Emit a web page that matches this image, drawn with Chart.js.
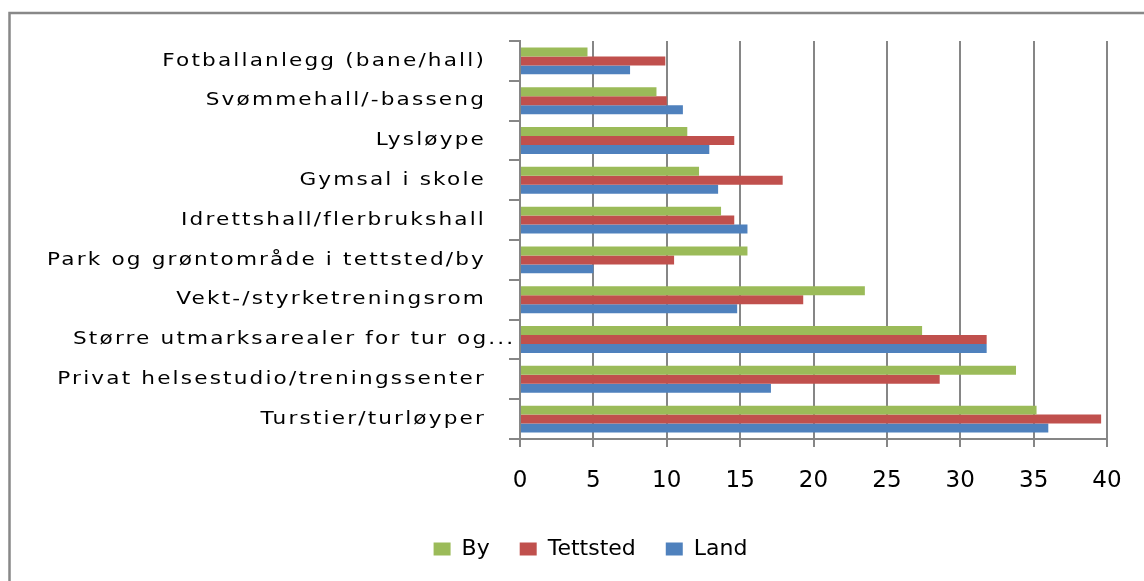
<!DOCTYPE html>
<html>
<head>
<meta charset="utf-8">
<script src="https://cdn.jsdelivr.net/npm/chart.js@4.4.1/dist/chart.umd.min.js"></script>
<style>
  html, body { margin: 0; padding: 0; background: #ffffff; }
  #wrap { width: 1144px; height: 581px; position: relative; }
</style>
</head>
<body>
<div id="wrap"><canvas id="chart" width="1144" height="581"></canvas></div>
<script>
// ---- Data ----
const categories = [
  "Fotballanlegg (bane/hall)",
  "Svømmehall/-basseng",
  "Lysløype",
  "Gymsal i skole",
  "Idrettshall/flerbrukshall",
  "Park og grøntområde i tettsted/by",
  "Vekt-/styrketreningsrom",
  "Større utmarksarealer for tur og...",
  "Privat helsestudio/treningssenter",
  "Turstier/turløyper"
];
const seriesNames = ["By", "Tettsted", "Land"];
const byValues       = [4.6, 9.3, 11.4, 12.2, 13.7, 15.5, 23.5, 27.4, 33.8, 35.2];
const tettstedValues = [9.9, 10.0, 14.6, 17.9, 14.6, 10.5, 19.3, 31.8, 28.6, 39.6];
const landValues     = [7.5, 11.1, 12.9, 13.5, 15.5, 5.0, 14.8, 31.8, 17.1, 36.0];
const xMin = 0, xMax = 40, xStep = 5;

// ---- Styles ----
const colors = ["#9BBB59", "#C0504D", "#4F81BD"];
const gridColor = "#868686";

const framePlugin = {
  id: 'frame',
  beforeDraw(chart) {
    const ctx = chart.ctx;
    ctx.save();
    ctx.fillStyle = '#ffffff';
    ctx.fillRect(0, 0, chart.width, chart.height);
    ctx.strokeStyle = '#888888';
    ctx.lineWidth = 2.5;
    ctx.strokeRect(9.5, 13, 1400, 900);
    ctx.restore();
  }
};

const categoryLabelPlugin = {
  id: 'catLabels',
  afterDraw(chart) {
    const ctx = chart.ctx;
    const ys = chart.scales.y;
    ctx.save();
    ctx.font = '18px "DejaVu Sans"';
    ctx.fillStyle = '#000000';
    ctx.textBaseline = 'middle';
    const hasLS = ('letterSpacing' in ctx);
    if (hasLS) ctx.letterSpacing = '1.8px';
    categories.forEach((c, i) => {
      const y = ys.getPixelForValue(i);
      ctx.save();
      if (c.endsWith('...')) {
        ctx.textAlign = 'left';
        ctx.translate(73, y);
      } else {
        ctx.textAlign = 'right';
        ctx.translate(486, y);
      }
      ctx.scale(hasLS ? 1.2 : 1.42, 1);
      ctx.fillText(c, 0, 0);
      ctx.restore();
    });
    ctx.restore();
  }
};

const valueSets = [byValues, tettstedValues, landValues];

new Chart(document.getElementById('chart'), {
  type: 'bar',
  data: {
    labels: categories,
    datasets: seriesNames.map((name, k) => ({
      label: name,
      data: valueSets[k],
      backgroundColor: colors[k],
      borderWidth: 0,
      categoryPercentage: 0.675,
      barPercentage: 1.0
    }))
  },
  options: {
    indexAxis: 'y',
    responsive: false,
    animation: false,
    devicePixelRatio: 1,
    layout: { padding: { left: 74, right: 37, top: 41, bottom: 11 } },
    scales: {
      x: {
        min: xMin, max: xMax,
        ticks: {
          stepSize: xStep,
          color: '#000000',
          font: { family: 'DejaVu Sans', size: 23 },
          padding: 20
        },
        grid: { color: gridColor, lineWidth: 2, tickLength: 8, drawTicks: true },
        border: { display: true, color: gridColor, width: 2 },
        afterFit(s) { s.height = 69; }
      },
      y: {
        offset: true,
        ticks: { display: false },
        grid: { display: true, drawOnChartArea: false, drawTicks: true, tickLength: 11, color: gridColor, lineWidth: 2, offset: true },
        border: { display: true, color: gridColor, width: 2 },
        afterFit(s) { s.width = 446; }
      }
    },
    plugins: {
      legend: {
        position: 'bottom',
        labels: {
          color: '#000000',
          font: { family: 'DejaVu Sans', size: 22 },
          boxWidth: 17,
          boxHeight: 13,
          padding: 30
        }
      },
      tooltip: { enabled: false }
    }
  },
  plugins: [framePlugin, categoryLabelPlugin]
});
</script>
</body>
</html>
